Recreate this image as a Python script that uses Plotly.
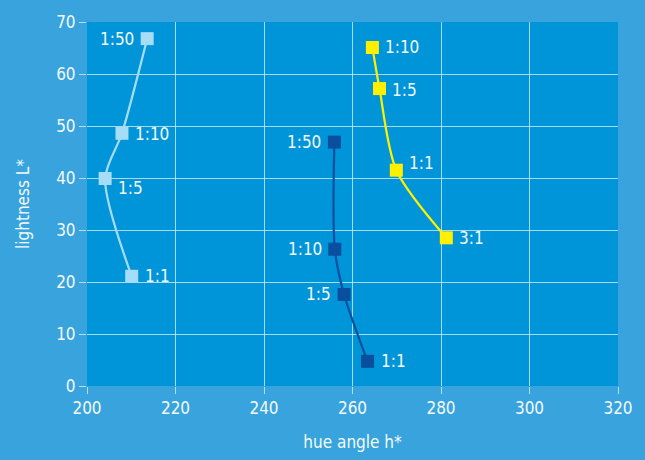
import plotly.graph_objects as go

# Light blue series
lb_hue = [213.6, 207.9, 204.1, 210.1]
lb_L = [66.8, 48.6, 39.9, 21.1]
lb_labels = ["1:50", "1:10", "1:5", "1:1"]
lb_side = ["left", "right", "right", "right"]
lb_dy = [0, -1, -9, 0]

# Dark blue series
db_hue = [255.9, 256.0, 258.1, 263.4]
db_L = [46.9, 26.3, 17.6, 4.75]
db_labels = ["1:50", "1:10", "1:5", "1:1"]
db_side = ["left", "left", "left", "right"]
db_dy = [0, 0, 0, 0]

# Yellow series
y_hue = [264.5, 266.1, 269.9, 281.2]
y_L = [65.1, 57.2, 41.5, 28.5]
y_labels = ["1:10", "1:5", "1:1", "3:1"]
y_side = ["right", "right", "right", "right"]
y_dy = [0, -1, 7, 0]

x_ticks = [200, 220, 240, 260, 280, 300, 320]
y_ticks = [0, 10, 20, 30, 40, 50, 60, 70]

FONT = "Liberation Sans Narrow, DejaVu Sans Condensed, Roboto Condensed, Liberation Sans, Arial, sans-serif"
TXT = "#f4fafd"
GRID = "rgba(205,238,252,0.8)"

fig = go.Figure()

def add(xs, ys, labels, sides, dys, color):
    fig.add_trace(go.Scatter(
        x=xs, y=ys, mode="lines+markers",
        line=dict(color=color, width=2.2, shape="spline", smoothing=0.8),
        marker=dict(symbol="square", size=13, color=color),
        cliponaxis=False, showlegend=False, hoverinfo="skip",
    ))
    for x, y, t, s, dy in zip(xs, ys, labels, sides, dys):
        fig.add_annotation(
            x=x, y=y, text=t, showarrow=False,
            xanchor="left" if s == "right" else "right",
            xshift=11 if s == "right" else -11,
            yshift=dy,
            font=dict(family=FONT, size=17, color=TXT),
        )

add(lb_hue, lb_L, lb_labels, lb_side, lb_dy, "#a6dcf6")
add(db_hue, db_L, db_labels, db_side, db_dy, "#0a4f9e")
add(y_hue, y_L, y_labels, y_side, y_dy, "#fff000")

axis_common = dict(
    showgrid=True, gridcolor=GRID, gridwidth=1,
    zeroline=False, showline=False,
    ticks="outside", ticklen=7, tickcolor=GRID, tickwidth=1,
    tickfont=dict(family=FONT, size=17, color=TXT),
)

fig.update_layout(
    width=645, height=460,
    paper_bgcolor="#38a3dc",
    plot_bgcolor="#0095d8",
    margin=dict(l=87, r=26, t=21, b=71),
    font=dict(family=FONT, color=TXT),
    xaxis=dict(range=[200, 320], tickvals=x_ticks,
               title=dict(text="hue angle h*", font=dict(family=FONT, size=17, color=TXT), standoff=18),
               **axis_common),
    yaxis=dict(range=[0, 70], tickvals=y_ticks,
               title=dict(text="lightness L*", font=dict(family=FONT, size=17, color=TXT), standoff=22),
               **axis_common),
)

fig.write_html("out.html", config={"displayModeBar": False},
               post_script="document.body.style.margin='0';document.body.style.overflow='hidden';")
